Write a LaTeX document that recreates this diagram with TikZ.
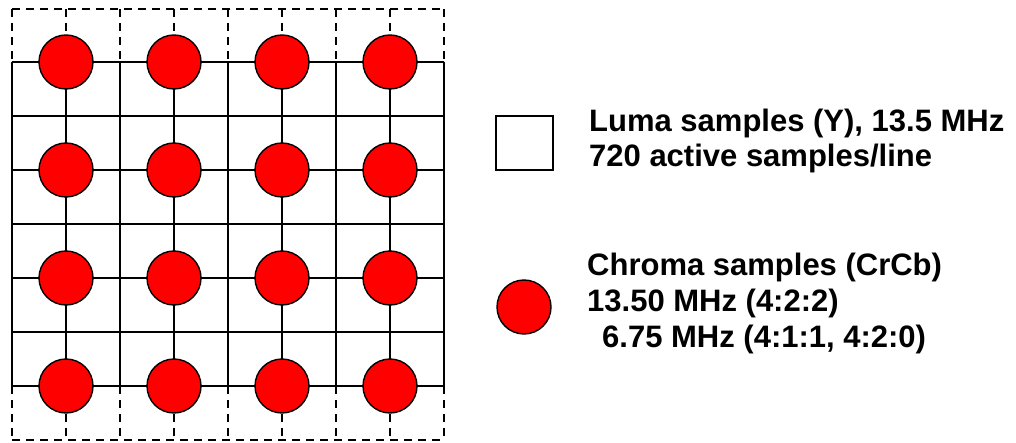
\documentclass[tikz,border=0pt]{standalone}
\usepackage{fontspec}
\setmainfont{Liberation Sans}
\begin{document}
\begin{tikzpicture}[x=1pt,y=-1pt,
  grid/.style={line width=1.8pt,black},
  dashline/.style={line width=1.8pt,black,dash pattern=on 8pt off 6pt},
  chroma/.style={circle,draw=black,line width=1.4pt,fill=red,minimum size=54pt,inner sep=0pt},
  lumabox/.style={draw=black,line width=2.2pt,minimum width=57pt,minimum height=54pt,inner sep=0pt},
  legtext/.style={anchor=base west,inner sep=0pt,font=\fontsize{31}{36}\selectfont\bfseries}]
\useasboundingbox (0,0) rectangle (1016,443);
% dashed outer parts
\foreach \i in {0,...,8}{
  \draw[dashline] (12+54*\i,9) -- (12+54*\i,62);
  \draw[dashline] (12+54*\i,386) -- (12+54*\i,440);
}
\draw[dashline] (12,9) -- (444,9);
\draw[dashline] (12,440) -- (444,440);
% solid grid
\foreach \j in {0,...,6}{
  \draw[grid] (12,62+54*\j) -- (444,62+54*\j);
}
\foreach \i in {0,...,8}{
  \draw[grid] (12+54*\i,62) -- (12+54*\i,386);
}
% chroma samples
\foreach \r in {0,...,3}{
  \foreach \c in {0,...,3}{
    \node[chroma] (c\r\c) at (66+108*\c,62+108*\r) {};
  }
}
% legend
\node[lumabox] (lbox) at (524.5,143) {};
\node[legtext] (luma1) at (589,132) {Luma samples (Y), 13.5 MHz};
\node[legtext] (luma2) at (589,167) {720 active samples/line};
\node[chroma] (cleg) at (524,307) {};
\node[legtext] (chr1) at (587,276) {Chroma samples (CrCb)};
\node[legtext] (chr2) at (587,312) {13.50 MHz (4:2:2)};
\node[legtext] (chr3) at (602,347) {6.75 MHz (4:1:1, 4:2:0)};
\end{tikzpicture}
\end{document}
